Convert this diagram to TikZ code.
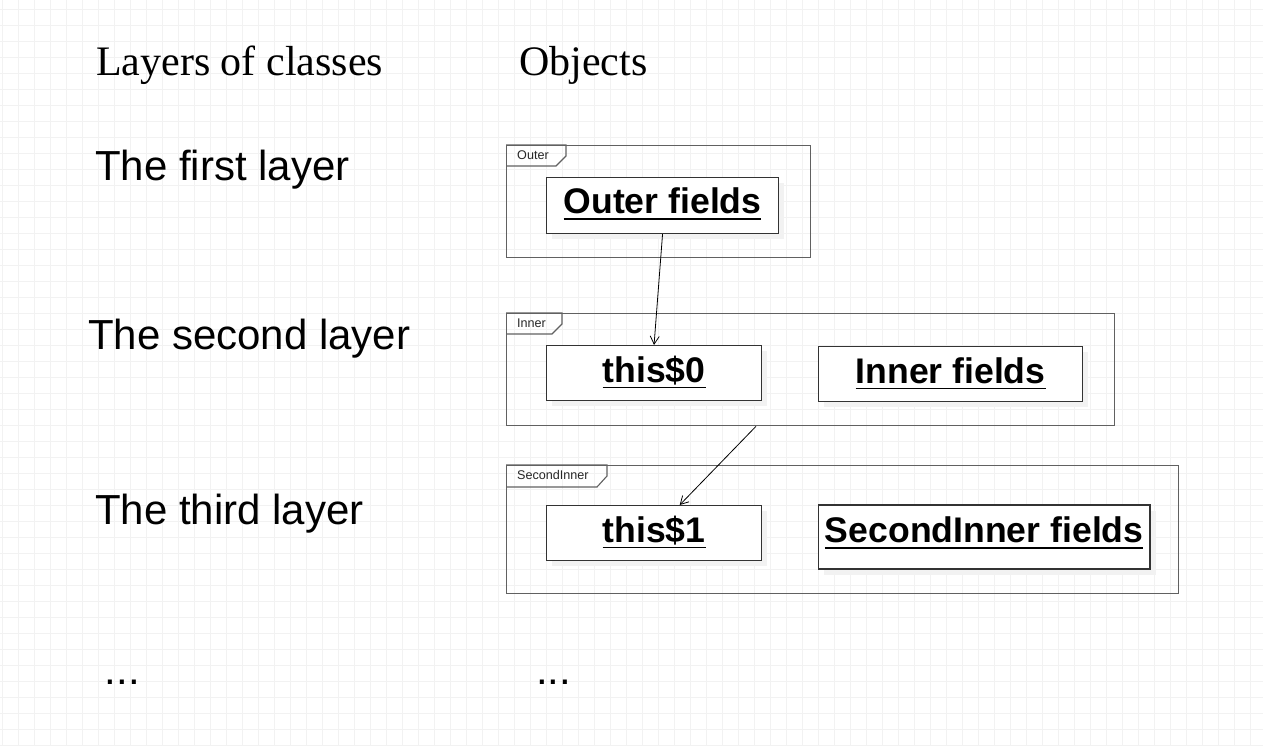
\documentclass[tikz,border=0pt]{standalone}
\usepackage{fontspec}
\setmainfont{Liberation Serif}
\newfontfamily\arialf{Liberation Sans}
\usetikzlibrary{arrows.meta,shadows}
\newcommand\ulx[1]{\setbox0\hbox{#1}\rlap{\rule[-6pt]{\wd0}{1.3pt}}\box0}
\begin{document}
\begin{tikzpicture}[x=1pt,y=-1pt,
  gridl/.style={draw=black!5, line width=0.9pt},
  frame/.style={draw=black!62, line width=1.3pt, inner sep=0pt, anchor=north west},
  tabline/.style={draw=black!62, line width=1.1pt},
  tablabel/.style={font=\arialf\fontsize{12.6}{14}\selectfont, inner sep=0pt, anchor=base west, text=black!85},
  objbox/.style={draw=black!80, line width=1.4pt, fill=white, inner sep=0pt, anchor=north west,
    general shadow={fill=black!5, shadow xshift=5.5pt, shadow yshift=-5.5pt},
    font=\arialf\fontsize{35.6}{40}\selectfont\bfseries, text height=26pt},
  seriflab/.style={font=\fontsize{42}{48}\selectfont, inner sep=0pt, anchor=base west},
  sanslab/.style={font=\arialf\fontsize{42}{48}\selectfont, inner sep=0pt, anchor=base west},
  conn/.style={draw=black, line width=0.8pt, -{Straight Barb[length=8pt,width=9pt]}}
]
\useasboundingbox (0,0) rectangle (1263,746);
\fill[white] (0,0) rectangle (1263,746);
\foreach \x in {2,18,...,1262} \draw[gridl] (\x,0) -- (\x,746);
\foreach \y in {9,25,...,745} \draw[gridl] (0,\y) -- (1263,\y);

% headings
\node[seriflab] (hlayers) at (96,76) {Layers of classes};
\node[seriflab] (hobjects) at (519,76) {Objects};
\node[sanslab] (lfirst) at (95,181) {The first layer};
\node[sanslab] (lsecond) at (88,349) {The second layer};
\node[sanslab] (lthird) at (95,524) {The third layer};
\node[sanslab] (dotsa) at (104.5,684) {...};
\node[sanslab] (dotsb) at (536,684) {...};

% frames
\node[frame, minimum width=304pt, minimum height=112pt] (outerfr) at (506,145) {};
\node[frame, minimum width=608pt, minimum height=112pt] (innerfr) at (506,313) {};
\node[frame, minimum width=672pt, minimum height=128pt] (secfr) at (506,465) {};

% tabs
\draw[tabline] (outerfr.north west) -- ++(60,0) -- ++(0,11) -- ++(-10,10) -- ++(-50,0);
\node[tablabel] (outertab) at ([xshift=11pt,yshift=-14.3pt]outerfr.north west) {Outer};
\draw[tabline] (innerfr.north west) -- ++(56,0) -- ++(0,11) -- ++(-10,10) -- ++(-46,0);
\node[tablabel] (innertab) at ([xshift=11pt,yshift=-14.3pt]innerfr.north west) {Inner};
\draw[tabline] (secfr.north west) -- ++(101,0) -- ++(0,11) -- ++(-10,11) -- ++(-91,0);
\node[tablabel] (sectab) at ([xshift=11pt,yshift=-14.3pt]secfr.north west) {SecondInner};

% object boxes
\node[objbox, minimum width=232.3pt, minimum height=56pt, text depth=9.4pt] (outerf) at (545.7,176.7) {\ulx{Outer fields}};
\node[objbox, minimum width=215.3pt, minimum height=55pt, text depth=7.6pt] (this0) at (545.7,345) {\ulx{this\$0}};
\node[objbox, minimum width=264.3pt, minimum height=55.3pt, text depth=8pt] (innerf) at (817.7,345.7) {\ulx{Inner fields}};
\node[objbox, minimum width=215.3pt, minimum height=55pt, text depth=7.6pt] (this1) at (545.7,505) {\ulx{this\$1}};
\node[objbox, minimum width=331.6pt, minimum height=64pt, text depth=15pt] (secf) at (817.7,504.3) {\ulx{SecondInner fields}};

% connectors
\draw[conn] (outerf.south) -- (this0.north);
\draw[conn] ([xshift=250pt]innerfr.south west) -- ([xshift=134pt]this1.north west);
\end{tikzpicture}
\end{document}
